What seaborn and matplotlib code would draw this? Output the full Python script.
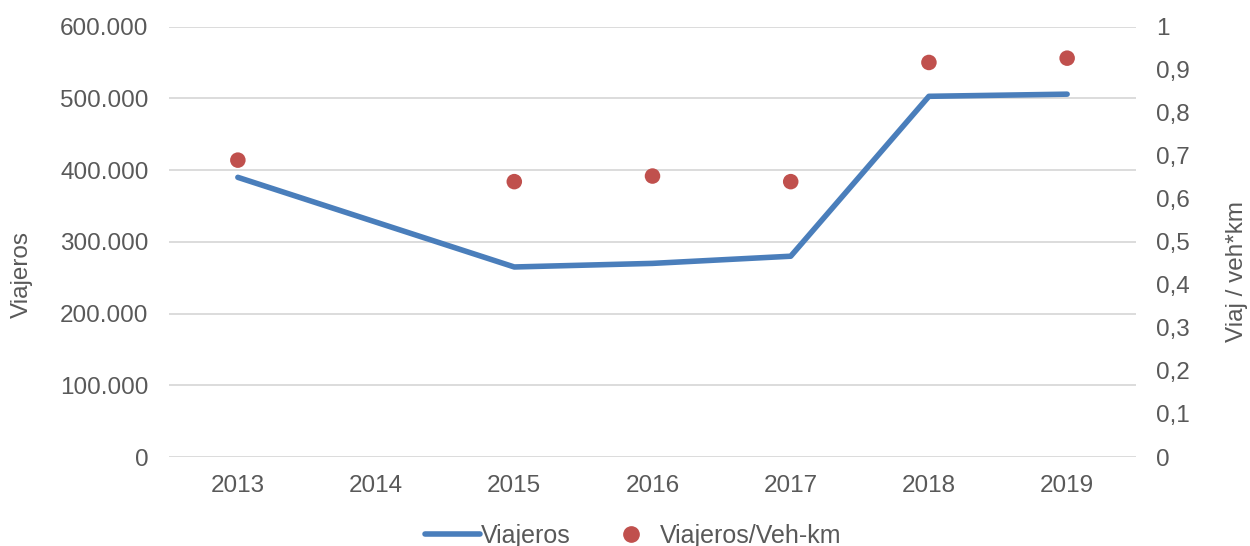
import matplotlib
matplotlib.use("Agg")
import matplotlib.pyplot as plt
import seaborn as sns
import pandas as pd
from matplotlib.lines import Line2D
from matplotlib.ticker import FuncFormatter

# data
years = [2013, 2015, 2016, 2017, 2018, 2019]
viajeros = [390000, 265000, 270000, 280000, 503000, 506000]
viaj_vehkm = [0.69, 0.64, 0.653, 0.64, 0.917, 0.927]
all_years = [2013, 2014, 2015, 2016, 2017, 2018, 2019]

df = pd.DataFrame({"year": years, "viajeros": viajeros, "ratio": viaj_vehkm})

sns.set_style("white")
plt.rcParams['font.family'] = ['Liberation Sans', 'DejaVu Sans']
txt = '#595959'
blue = '#4a7ebb'
red = '#c0504d'
fs = 17.5

fig = plt.figure(figsize=(12.5, 5.46), dpi=100)
ax = fig.add_axes([0.135, 0.163, 0.774, 0.788])

sns.lineplot(data=df, x="year", y="viajeros", ax=ax, color=blue, lw=4,
             solid_capstyle='round', legend=False)
ax.set_xlim(2012.5, 2019.5)
ax.set_ylim(0, 600000)
ax.set_yticks(range(0, 600001, 100000))
ax.set_xticks(all_years)
ax.yaxis.set_major_formatter(FuncFormatter(lambda v, p: f"{int(v):,}".replace(",", ".")))
ax.grid(axis='y', color='#d9d9d9', lw=1.3)
ax.set_axisbelow(True)
ax.tick_params(axis='y', length=0, pad=14.5, labelsize=fs, labelcolor=txt)
ax.tick_params(axis='x', length=0, pad=13, labelsize=fs, labelcolor=txt)
ax.set_xlabel("")
ax.set_ylabel("")
for s in ax.spines.values():
    s.set_visible(False)

ax2 = ax.twinx()
sns.scatterplot(data=df, x="year", y="ratio", ax=ax2, color=red, s=125,
                edgecolor='none', legend=False, zorder=3)
ax2.set_ylim(0, 1)
ax2.set_yticks([i / 10 for i in range(11)])
ax2.yaxis.set_major_formatter(FuncFormatter(lambda v, p: "0" if v == 0 else ("1" if v == 1 else f"{v:.1f}".replace(".", ","))))
ax2.tick_params(axis='y', length=0, pad=14, labelsize=fs, labelcolor=txt)
ax2.set_ylabel("")
ax2.set_xlabel("")
for s in ax2.spines.values():
    s.set_visible(False)

fig.text(0.0176, 1 - 274 / 546, "Viajeros", rotation=90, ha='center', va='center',
         fontsize=fs, color=txt)
fig.text(0.9896, 1 - 271 / 546, "Viaj / veh*km", rotation=90, ha='center', va='center',
         fontsize=fs, color=txt)

handles = [Line2D([], [], color=blue, lw=4, solid_capstyle='round'),
           Line2D([], [], color=red, marker='o', ls='none', markersize=11)]
fig.legend(handles, ["Viajeros", "Viajeros/Veh-km"], loc='center',
           bbox_to_anchor=(0.5065, 1 - 536 / 546), ncol=2, frameon=False,
           fontsize=18, labelcolor=txt, handlelength=2.2, handletextpad=0.05,
           columnspacing=1.3)

fig.savefig("out.png", dpi=100)
